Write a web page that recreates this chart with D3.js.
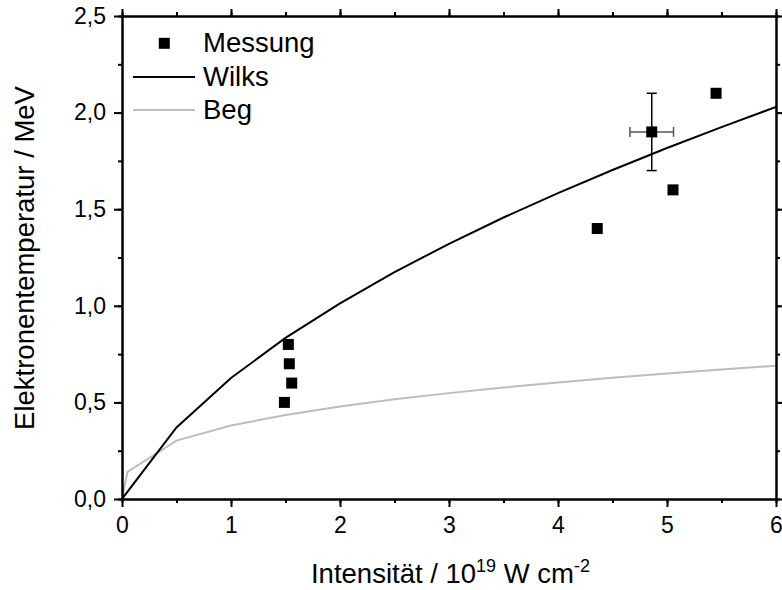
<!DOCTYPE html>
<html><head><meta charset="utf-8">
<script src="https://cdn.jsdelivr.net/npm/d3@7"></script>
<style>body{margin:0;background:#fff;} text{font-family:"Liberation Sans",Arial,sans-serif;}</style>
</head><body>
<svg id="c" width="782" height="590"></svg>
<script>
// Data
const messX = [1.49, 1.526, 1.535, 1.557, 4.36, 4.86, 5.055, 5.45];
const messY = [0.50, 0.80, 0.70, 0.60, 1.40, 1.90, 1.60, 2.10];
const errIndex = 5;
const errX = 0.2, errY = 0.2;
const wilksX = [0, 0.5, 1, 1.5, 2, 2.5, 3, 3.5, 4, 4.5, 5, 5.5, 6];
const wilksY = [0, 0.37, 0.626, 0.834, 1.013, 1.174, 1.321, 1.457, 1.583, 1.703, 1.817, 1.925, 2.029];
const begX = [0, 0.05, 0.5, 1, 1.5, 2, 2.5, 3, 3.5, 4, 4.5, 5, 5.5, 6];
const begY = [0, 0.14, 0.302, 0.38, 0.435, 0.479, 0.516, 0.548, 0.577, 0.603, 0.627, 0.650, 0.670, 0.690];
const xTicks = [0, 1, 2, 3, 4, 5, 6];
const yTicks = [0, 0.5, 1.0, 1.5, 2.0, 2.5];
const legendLabels = ["Messung", "Wilks", "Beg"];

const svg = d3.select("#c");
const L = 122, R = 776, T = 16, B = 499;
const x = d3.scaleLinear().domain([0, 6]).range([L, R]);
const y = d3.scaleLinear().domain([0, 2.5]).range([B, T]);
const fmt = d => d3.format(".1f")(d).replace(".", ",");
const FONT = "Liberation Sans, Arial, sans-serif";

svg.append("defs").append("clipPath").attr("id", "clip")
  .append("rect").attr("x", L).attr("y", T).attr("width", R - L).attr("height", B - T);

// curves
const line = d3.line().x(d => x(d[0])).y(d => y(d[1]));
const g = svg.append("g").attr("clip-path", "url(#clip)");
g.append("path").datum(begX.map((v, i) => [v, begY[i]]))
  .attr("d", line).attr("fill", "none").attr("stroke", "#bdbdbd").attr("stroke-width", 2);
g.append("path").datum(wilksX.map((v, i) => [v, wilksY[i]]))
  .attr("d", line).attr("fill", "none").attr("stroke", "#000").attr("stroke-width", 2);

// error bars
const ex = messX[errIndex], ey = messY[errIndex];
svg.append("line").attr("x1", x(ex - errX)).attr("x2", x(ex + errX)).attr("y1", y(ey)).attr("y2", y(ey)).attr("stroke", "#555").attr("stroke-width", 1.5);
[ex - errX, ex + errX].forEach(v => svg.append("line").attr("x1", x(v)).attr("x2", x(v)).attr("y1", y(ey) - 5).attr("y2", y(ey) + 5).attr("stroke", "#555").attr("stroke-width", 1.5));
svg.append("line").attr("x1", x(ex)).attr("x2", x(ex)).attr("y1", y(ey - errY)).attr("y2", y(ey + errY)).attr("stroke", "#000").attr("stroke-width", 1.5);
[ey - errY, ey + errY].forEach(v => svg.append("line").attr("x1", x(ex) - 5).attr("x2", x(ex) + 5).attr("y1", y(v)).attr("y2", y(v)).attr("stroke", "#000").attr("stroke-width", 1.5));

// points
const s = 11;
svg.selectAll("rect.pt").data(messX.map((v, i) => [v, messY[i]])).enter().append("rect")
  .attr("class", "pt").attr("x", d => x(d[0]) - s / 2).attr("y", d => y(d[1]) - s / 2)
  .attr("width", s).attr("height", s).attr("fill", "#000");

// axes
function styleAxis(sel) {
  sel.selectAll(".domain").attr("stroke", "#000").attr("stroke-width", 2);
  sel.selectAll(".tick line").attr("stroke", "#000").attr("stroke-width", 2);
  sel.selectAll("text").attr("font-size", 23).attr("fill", "#000").attr("font-family", FONT);
}
const xMinor = d3.range(0, 6.01, 0.5);
const yMinor = d3.range(0, 2.51, 0.25);
const mk = (axis, sc, vals) => axis(sc).tickValues(vals).tickSizeInner(4).tickSizeOuter(0).tickFormat("");
svg.append("g").attr("transform", `translate(0,${B})`).call(mk(d3.axisBottom, x, xMinor)).call(styleAxis);
svg.append("g").attr("transform", `translate(0,${T})`).call(mk(d3.axisTop, x, xMinor)).call(styleAxis);
svg.append("g").attr("transform", `translate(${L},0)`).call(mk(d3.axisLeft, y, yMinor)).call(styleAxis);
svg.append("g").attr("transform", `translate(${R},0)`).call(mk(d3.axisRight, y, yMinor)).call(styleAxis);
svg.append("g").attr("transform", `translate(0,${B})`)
  .call(d3.axisBottom(x).tickValues(xTicks).tickSizeInner(8).tickSizeOuter(0).tickPadding(10).tickFormat(d3.format("d"))).call(styleAxis);
svg.append("g").attr("transform", `translate(0,${T})`)
  .call(d3.axisTop(x).tickValues(xTicks).tickSizeInner(7).tickSizeOuter(0).tickFormat("")).call(styleAxis);
svg.append("g").attr("transform", `translate(${L},0)`)
  .call(d3.axisLeft(y).tickValues(yTicks).tickSizeInner(8).tickSizeOuter(0).tickPadding(8).tickFormat(fmt)).call(styleAxis);
svg.append("g").attr("transform", `translate(${R},0)`)
  .call(d3.axisRight(y).tickValues(yTicks).tickSizeInner(7).tickSizeOuter(0).tickFormat("")).call(styleAxis);

// axis titles
const xt = svg.append("text").attr("x", 450.5).attr("y", 583).attr("text-anchor", "middle").attr("font-size", 27.5).attr("font-family", FONT);
xt.append("tspan").text("Intensität / 10");
xt.append("tspan").attr("dy", -11).attr("font-size", 18).text("19");
xt.append("tspan").attr("dy", 11).text(" W cm");
xt.append("tspan").attr("dy", -11).attr("font-size", 18).text("-2");
svg.append("text").attr("transform", "translate(34,258) rotate(-90)").attr("text-anchor", "middle")
  .attr("font-size", 27.5).attr("font-family", FONT).text("Elektronentemperatur / MeV");

// legend
svg.append("rect").attr("x", 164.3 - s / 2).attr("y", 43.3 - s / 2).attr("width", s).attr("height", s).attr("fill", "#000");
svg.append("line").attr("x1", 133).attr("x2", 195).attr("y1", 77).attr("y2", 77).attr("stroke", "#000").attr("stroke-width", 2);
svg.append("line").attr("x1", 133).attr("x2", 195).attr("y1", 110).attr("y2", 110).attr("stroke", "#bdbdbd").attr("stroke-width", 2);
const ly = [52, 86, 119];
legendLabels.forEach((t, i) => svg.append("text").attr("x", 203).attr("y", ly[i]).attr("font-size", 27.5).attr("font-family", FONT).text(t));
</script>
</body></html>
